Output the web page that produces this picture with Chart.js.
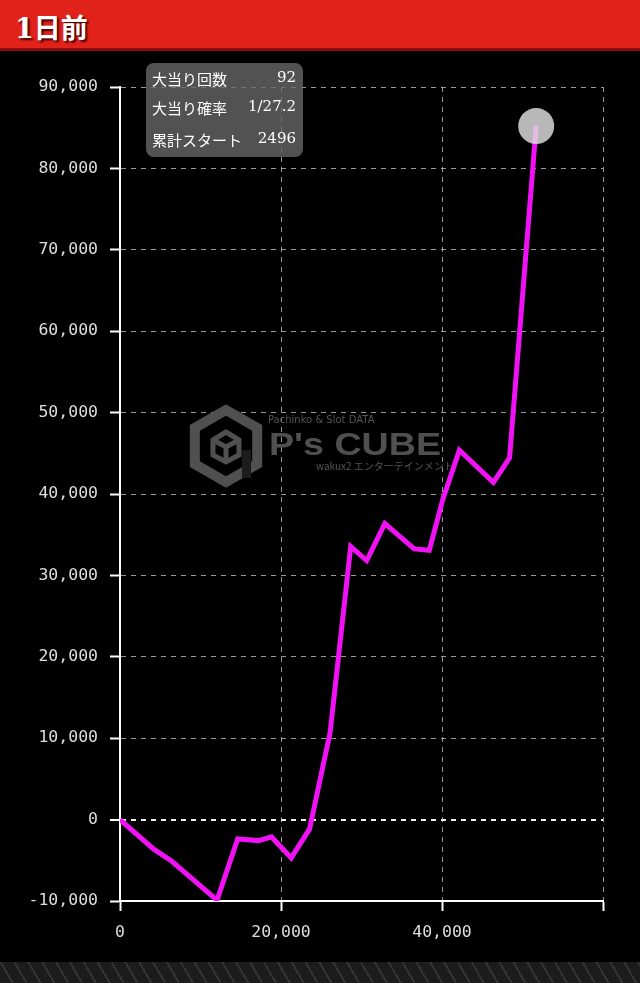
<!DOCTYPE html>
<html>
<head>
<meta charset="utf-8">
<script src="https://cdn.jsdelivr.net/npm/chart.js@4.4.0/dist/chart.umd.min.js"></script>
<style>
  body { margin: 0; background: #000; width: 640px; height: 983px; overflow: hidden; position: relative; }
  .head { position: absolute; left: 0; top: 0; width: 640px; height: 48px; background: #e0221b; border-bottom: 3px solid #8a0d0a; }
  .head span { position: absolute; left: 15px; top: 7px; color: #fff; font: bold 27px "DejaVu Serif", "Noto Sans CJK JP", serif; text-shadow: 2px 2px 2px #400; }
  .wrap { position: absolute; left: 0; top: 51px; width: 640px; height: 911px; }
  .foot { position: absolute; left: 0; top: 962px; width: 640px; height: 21px;
    background: repeating-linear-gradient(60deg, #1c1c1c 0 10px, #333 10px 12px), #222; }
  .info { position: absolute; left: 146px; top: 63px; width: 157px; height: 94px; border-radius: 8px;
    background: rgba(105,105,105,0.78); color: #fff; font: 15px "DejaVu Serif", "Noto Sans CJK JP", serif; }
  .info div { position: absolute; left: 6px; right: 7px; }
  .info b { font-weight: normal; float: right; }
</style>
</head>
<body>
<div class="head"><span>1日前</span></div>
<div class="wrap"><canvas id="myChart"></canvas></div>
<div class="info">
  <div style="top:5px">大当り回数<b>92</b></div>
  <div style="top:34px">大当り確率<b>1/27.2</b></div>
  <div style="top:66px">累計スタート<b>2496</b></div>
</div>
<div class="foot"></div>
<script>
const startsX = [0, 4150, 6440, 12050, 14620, 17240, 18820, 21270, 23550, 26100, 28660, 30650, 32900, 36550, 38420, 40090, 42160, 46390, 48390, 51700]
const diffY = [0, -3600, -5120, -9900, -2370, -2580, -2130, -4710, -1150, 10700, 33540, 31820, 36360, 33250, 33080, 39310, 45370, 41440, 44430, 85200]
const yTicks = [-10000, 0, 10000, 20000, 30000, 40000, 50000, 60000, 70000, 80000, 90000]
const xTicks = [0, 20000, 40000, 60000]

function fmt(v){
    return v.toLocaleString('en-US')
}

// grey logo behind the line
const watermark = {
    id: 'watermark',
    beforeDatasetsDraw(chart){
        const c = chart.ctx
        c.save()
        c.fillStyle = '#505050'
        c.strokeStyle = '#505050'
        // hexagon icon
        const cx = 226, cy = 395, r = 36
        c.lineWidth = 10
        c.beginPath()
        for(let i = 0; i < 6; i++){
            const a = Math.PI / 3 * i - Math.PI / 2
            const px = cx + r * Math.cos(a), py = cy + r * Math.sin(a)
            if(i == 0) c.moveTo(px, py); else c.lineTo(px, py)
        }
        c.closePath()
        c.stroke()
        c.lineWidth = 5
        c.beginPath()
        c.moveTo(cx, cy - 14); c.lineTo(cx + 13, cy - 6); c.lineTo(cx + 13, cy + 9)
        c.lineTo(cx, cy + 16); c.lineTo(cx - 13, cy + 9); c.lineTo(cx - 13, cy - 6); c.closePath()
        c.moveTo(cx - 13, cy - 6); c.lineTo(cx, cy + 1); c.lineTo(cx + 13, cy - 6)
        c.moveTo(cx, cy + 1); c.lineTo(cx, cy + 16)
        c.stroke()
        c.fillStyle = '#1c1c1c'
        c.fillRect(cx + 16, cy + 4, 9, 28)
        c.fillStyle = '#505050'
        c.font = 'bold 32px "Liberation Sans", sans-serif'
        c.textBaseline = 'alphabetic'
        const w = c.measureText("P's CUBE").width
        c.translate(269, 404)
        c.scale(172 / w, 1)
        c.fillText("P's CUBE", 0, 0)
        c.restore()
        c.save()
        c.fillStyle = '#555'
        c.font = '10px "DejaVu Sans", sans-serif'
        c.fillText('Pachinko & Slot DATA', 268, 372)
        c.font = '10px "Noto Sans CJK JP", sans-serif'
        c.fillText('wakux2 エンターテインメント', 316, 419)
        c.restore()
    }
}

const ctx = document.getElementById('myChart')
const config = {
    type: 'line',
    data: {
        datasets: [{
            data: startsX.map((x, i) => ({x: x, y: diffY[i]})),
            borderColor: '#f012f4',
            borderWidth: 5,
            tension: 0,
            pointRadius: startsX.map((x, i) => i == startsX.length - 1 ? 18 : 0),
            pointHoverRadius: 0,
            pointBackgroundColor: 'rgba(225,225,225,0.82)',
            pointBorderWidth: 0
        }]
    },
    options: {
        responsive: false,
        animation: false,
        events: [],
        layout: { padding: { left: 0, right: 37, top: 36, bottom: 0 } },
        plugins: { legend: { display: false }, tooltip: { enabled: false } },
        scales: {
            x: {
                type: 'linear', min: 0, max: 60000,
                afterBuildTicks: s => { s.ticks = xTicks.map(v => ({value: v})) },
                afterFit: s => { s.height = 61 },
                ticks: {
                    color: '#ddd', padding: 12, maxRotation: 0,
                    font: { family: '"DejaVu Sans Mono", monospace', size: 16.5 },
                    callback: v => v == 60000 ? '' : fmt(v)
                },
                grid: { color: 'rgba(200,200,200,0.75)', lineWidth: 1, tickLength: 10, tickColor: '#fff', tickWidth: 2 },
                border: { color: '#fff', width: 2, dash: [5, 5] }
            },
            y: {
                min: -10000, max: 90000,
                afterBuildTicks: s => { s.ticks = yTicks.map(v => ({value: v})) },
                afterFit: s => { s.width = 120 },
                ticks: {
                    color: '#ddd', padding: 12,
                    font: { family: '"DejaVu Sans Mono", monospace', size: 16.5 },
                    callback: v => fmt(v)
                },
                grid: {
                    color: c => c.tick && c.tick.value == 0 ? '#eee' : 'rgba(200,200,200,0.75)',
                    lineWidth: c => c.tick && c.tick.value == 0 ? 2 : 1,
                    tickLength: 10, tickColor: '#fff', tickWidth: 2
                },
                border: { color: '#fff', width: 2, dash: [5, 5] }
            }
        }
    },
    plugins: [watermark]
}
ctx.width = 640
ctx.height = 911
new Chart(ctx, config)
</script>
</body>
</html>
